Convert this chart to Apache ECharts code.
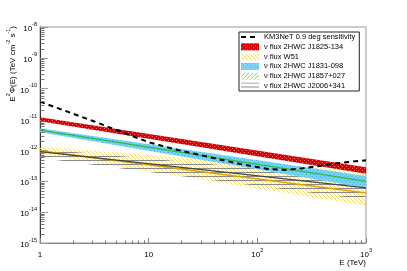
<!DOCTYPE html>
<html><head><meta charset="utf-8">
<script src="https://cdn.jsdelivr.net/npm/echarts@6/dist/echarts.min.js"></script>
<style>html,body{margin:0;padding:0;background:#fff}#c{width:407px;height:271px}</style>
</head><body><div id="c"></div>
<script>
// ---- data ----
const energyEnds = [1, 1000];                       // TeV, band end points
const sensE = [1, 3.07, 10, 18.6, 38.3, 69.2, 125, 180, 263, 541, 1000];
const sensV = [3.8e-11, 9.0e-12, 1.84e-12, 1.03e-12, 5.8e-13, 3.64e-13, 2.5e-13, 2.32e-13, 2.64e-13, 3.83e-13, 4.8e-13];
const j1825Hi = [1.19e-11, 2.85e-13];
const j1825Lo = [8.8e-12, 1.75e-13];
const w51Hi = [1.34e-12, 2.0e-13];
const w51Lo = [7.7e-13, 1.6e-14];
const w51Mid = [9.8e-13, 4.2e-14];
const j1831Hi = [5.2e-12, 1.49e-13];
const j1831Lo = [3.87e-12, 6.1e-14];
const j1857Hi = [4.95e-12, 1.38e-13];
const j1857Lo = [4.11e-12, 7.0e-14];
const j1857Mid = [4.55e-12, 1.0e-13];
const j2006Hi = [1.11e-12, 1.28e-13];
const j2006Lo = [5.7e-13, 2.5e-14];
const j2006Mid = [9.2e-13, 6.1e-14];
const xTicks = [1, 10, 100, 1000];
const yTicks = [1e-15, 1e-14, 1e-13, 1e-12, 1e-11, 1e-10, 1e-9, 1e-8];
const names = ['KM3NeT 0.9 deg sensitivity', 'ν flux 2HWC J1825-134', 'ν flux W51',
  'ν flux 2HWC J1831-098', 'ν flux 2HWC J1857+027', 'ν flux 2HWC J2006+341'];

// minor tick positions (2..9 per decade)
function minors(lo, hi) { const r = []; for (let e = lo; e < hi; e++) for (let m = 2; m <= 9; m++) r.push(m * Math.pow(10, e)); return r; }
const xMinor = minors(0, 3);
const yMinor = minors(-15, -8);

// ---- fill patterns ----
function pat(bg, color, pts) {
  const c = document.createElement('canvas'); c.width = 4; c.height = 4;
  const g = c.getContext('2d');
  if (bg) { g.fillStyle = bg; g.fillRect(0, 0, 4, 4); }
  g.fillStyle = color; pts.forEach(p => g.fillRect(p[0], p[1], 1, 1));
  return { image: c, repeat: 'repeat' };
}
const redFill = pat('#dd0000', '#f06a6a', [[0, 0], [2, 2]]);
const cyanFill = pat('#7dd4f6', '#4bb8e6', [[0, 0], [2, 2]]);
const greenFill = pat(null, '#74d85a', [[3, 0], [2, 1], [1, 2], [0, 3]]);
const yellowFill = pat(null, '#f9d75a', [[0, 0], [1, 1], [2, 2], [3, 3]]);
const grayFill = pat(null, '#8a8a8a', [[0, 0], [1, 0], [2, 0], [3, 0]]);

function band(name, hi, lo, fill, z) {
  return {
    type: 'custom', name: name, z: z, silent: true,
    itemStyle: { color: fill },
    data: energyEnds.map((e, i) => [e, lo[i], hi[i]]),
    encode: { x: 0, y: [1, 2] },
    renderItem: function (params, api) {
      const i = params.dataIndexInside;
      if (i >= energyEnds.length - 1) return;
      const pts = [
        api.coord([energyEnds[i], hi[i]]), api.coord([energyEnds[i + 1], hi[i + 1]]),
        api.coord([energyEnds[i + 1], lo[i + 1]]), api.coord([energyEnds[i], lo[i]])
      ];
      return { type: 'polygon', shape: { points: pts }, style: { fill: fill } };
    }
  };
}
function line(name, vals, color, width, z) {
  return {
    type: 'line', name: name, z: z, silent: true, symbol: 'none',
    lineStyle: { color: color, width: width },
    data: energyEnds.map((e, i) => [e, vals[i]])
  };
}
// minor tick marks drawn through the axes' scales
function minorTicks(vals, isX, len) {
  return {
    type: 'custom', name: isX ? 'xminor' : 'yminor', z: 6, silent: true,
    data: vals.map(v => isX ? [v, 1e-15] : [1, v]),
    encode: { x: 0, y: 1 },
    renderItem: function (params, api) {
      const v = vals[params.dataIndexInside];
      const p = api.coord(isX ? [v, 1e-15] : [1, v]);
      const x = Math.round(p[0]) + 0.5, y = Math.round(p[1]) + 0.5;
      return { type: 'line', shape: isX ? { x1: x, y1: y, x2: x, y2: y - len } : { x1: x, y1: y, x2: x + len, y2: y },
        style: { stroke: '#777', lineWidth: 1 } };
    }
  };
}

const F = 'Liberation Sans, Arial, sans-serif';
const rich = {
  b: { fontSize: 8, fontFamily: F, color: '#000', lineHeight: 12, verticalAlign: 'bottom' },
  s: { fontSize: 5.5, fontFamily: F, color: '#000', lineHeight: 6, verticalAlign: 'top' }
};
function yLab(v) { const e = Math.round(Math.log10(v)); return '{b|10}{s|' + e + '}'; }
function xLab(v) { const e = Math.round(Math.log10(v)); if (e === 0) return '{b|1}'; if (e === 1) return '{b|10}'; return '{b|10}{s|' + e + '}'; }

const chart = echarts.init(document.getElementById('c'), null, { renderer: 'canvas' });
chart.setOption({
  animation: false,
  backgroundColor: '#fff',
  grid: { left: 40, right: 41, top: 27, bottom: 28, show: true, borderColor: '#999', borderWidth: 1, backgroundColor: 'transparent' },
  xAxis: {
    type: 'log', logBase: 10, min: 1, max: 1000, position: 'bottom',
    axisLine: { show: true, lineStyle: { color: '#888', width: 1 } },
    axisTick: { show: true, inside: true, length: 5, lineStyle: { color: '#888' } },
    axisLabel: { show: true, margin: 4, formatter: xLab, rich: rich },
    splitLine: { show: false },
    name: 'E (TeV)', nameLocation: 'end', nameGap: 0,
    nameTextStyle: { fontSize: 8, fontFamily: F, color: '#000', align: 'right', verticalAlign: 'top', padding: [16, 0, 0, 0] }
  },
  yAxis: {
    type: 'log', logBase: 10, min: 1e-15, max: 1e-8, position: 'left', interval: 1,
    axisLine: { show: true, lineStyle: { color: '#333', width: 1 } },
    axisTick: { show: true, inside: true, length: 8, lineStyle: { color: '#999' } },
    axisLabel: { show: true, margin: 3, formatter: yLab, rich: rich },
    splitLine: { show: false }
  },
  legend: {
    orient: 'vertical', left: 239, top: 32, itemWidth: 18, itemHeight: 7, itemGap: 1.8,
    padding: [1, 4, 1, 1], backgroundColor: '#fff', borderColor: '#222', borderWidth: 1, borderRadius: 0,
    textStyle: { fontSize: 7.5, fontFamily: F, color: '#000', lineHeight: 7 },
    selectedMode: false,
    data: [
      { name: names[0], itemStyle: { color: 'rgba(0,0,0,0)', borderWidth: 0, opacity: 0 } },
      { name: names[1], icon: 'rect' },
      { name: names[2], icon: 'rect' },
      { name: names[3], icon: 'rect' },
      { name: names[4], icon: 'rect' },
      { name: names[5], icon: 'rect' }
    ]
  },
  graphic: [{
    type: 'text', x: 11, y: 26, rotation: Math.PI / 2,
    style: {
      text: '{b|E}{s|2}{b|Φ(E) (TeV cm}{s|-2}{b| s}{s|-1}{b|)}', rich: rich,
      align: 'right', verticalAlign: 'middle'
    }
  }],
  series: [
    band(names[2], w51Hi, w51Lo, yellowFill, 2),
    band(names[5], j2006Hi, j2006Lo, grayFill, 2),
    band(names[3], j1831Hi, j1831Lo, cyanFill, 2),
    band(names[4], j1857Hi, j1857Lo, greenFill, 2),
    line('w51 line', w51Mid, '#e0a000', 1.5, 3),
    line('j2006 line', j2006Mid, '#444', 1.2, 3),
    line('j1857 line', j1857Mid, '#33bb33', 1.2, 3),
    band(names[1], j1825Hi, j1825Lo, redFill, 3),
    {
      type: 'line', name: names[0], z: 4, silent: true, symbol: 'none',
      lineStyle: { color: '#000', width: 2, type: [5, 4] },
      itemStyle: { color: '#000' },
      data: sensE.map((e, i) => [e, sensV[i]])
    },
    minorTicks(xMinor, true, 3),
    minorTicks(yMinor, false, 4)
  ]
});
</script></body></html>
